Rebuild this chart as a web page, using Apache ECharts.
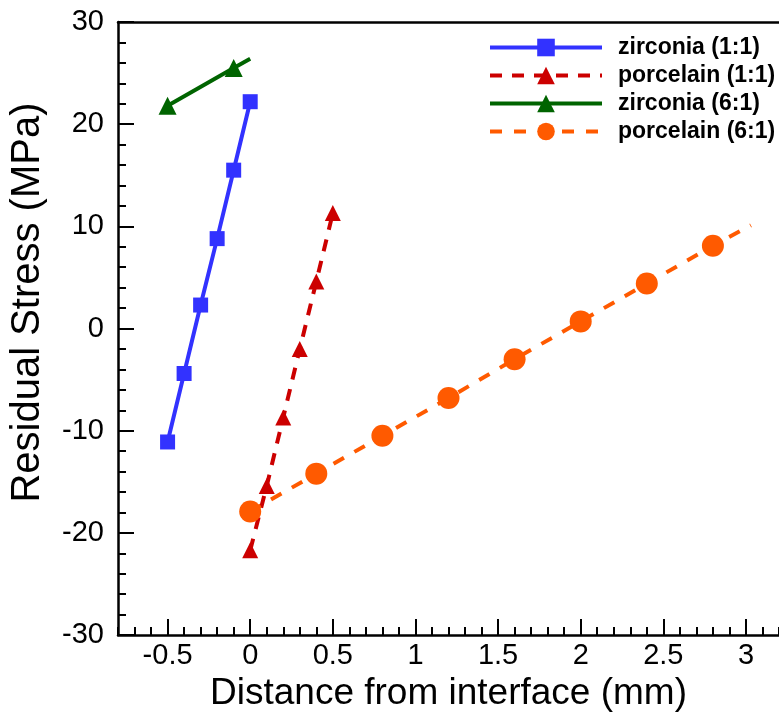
<!DOCTYPE html>
<html>
<head>
<meta charset="utf-8">
<script src="https://cdn.jsdelivr.net/npm/echarts@6/dist/echarts.min.js"></script>
<style>
html,body{margin:0;padding:0;background:#fff;}
#chart{width:779px;height:717px;}
</style>
</head>
<body>
<div id="chart"></div>
<script>
// ---- data ----
const seriesNames = ['zirconia (1:1)', 'porcelain (1:1)', 'zirconia (6:1)', 'porcelain (6:1)'];

const zirconia11X = [-0.5, -0.4, -0.3, -0.2, -0.1, 0];
const zirconia11Y = [-11.1, -4.4, 2.3, 8.8, 15.5, 22.2];

const porcelain11X = [0, 0.1, 0.2, 0.3, 0.4, 0.5];
const porcelain11Y = [-21.7, -15.4, -8.7, -2.0, 4.6, 11.3];

const zirconia61X = [-0.5, -0.1, 0];
const zirconia61Y = [21.8, 25.5, 26.4];
const zirconia61Marker = [true, true, false];

const porcelain61X = [0, 0.4, 0.8, 1.2, 1.6, 2.0, 2.4, 2.8, 3.03];
const porcelain61Y = [-17.9, -14.2, -10.5, -6.8, -3.0, 0.7, 4.4, 8.1, 10.1];
const porcelain61Marker = [true, true, true, true, true, true, true, true, false];

const xTitle = 'Distance from interface (mm)';
const yTitle = 'Residual Stress (MPa)';

function pts(xs, ys, marks) {
  return xs.map((x, i) => {
    if (marks && !marks[i]) return { value: [x, ys[i]], symbol: 'none' };
    return [x, ys[i]];
  });
}

const FONT = 'Liberation Sans, Arial, Helvetica, sans-serif';
const axisLineStyle = { color: '#000', width: 2.5 };
const tickLineStyle = { color: '#000', width: 2 };

const chart = echarts.init(document.getElementById('chart'), null, { renderer: 'canvas' });
chart.setOption({
  animation: false,
  backgroundColor: '#fff',
  textStyle: { fontFamily: FONT },
  grid: { left: 115, right: -3, top: 22, bottom: 80, containLabel: false },
  legend: {
    orient: 'vertical',
    left: 483,
    top: 31,
    itemWidth: 112,
    itemHeight: 22,
    itemGap: 5,
    data: seriesNames,
    lineStyle: { width: 4 },
    textStyle: { fontSize: 23, fontWeight: 'bold', color: '#000', fontFamily: FONT, padding: [0, 0, 0, 11] }
  },
  xAxis: [
    {
      type: 'value', min: -0.8, max: 3.2, splitNumber: 8, position: 'bottom',
      axisLine: { show: true, onZero: false, lineStyle: axisLineStyle },
      axisTick: { show: true, inside: true, length: 16, lineStyle: tickLineStyle },
      splitLine: { show: false },
      axisLabel: { showMinLabel: false, showMaxLabel: false, fontSize: 29, color: '#000', margin: 6, fontFamily: FONT },
      name: xTitle, nameLocation: 'middle', nameGap: 38,
      nameTextStyle: { fontSize: 37, color: '#000', fontFamily: FONT }
    },
    {
      type: 'value', min: -0.8, max: 3.2, interval: 0.1, position: 'bottom',
      axisLine: { show: false, onZero: false },
      axisTick: { show: true, inside: true, length: 8, lineStyle: tickLineStyle },
      splitLine: { show: false },
      axisLabel: { show: false }
    },
    {
      type: 'value', min: -0.8, max: 3.2, position: 'top',
      axisLine: { show: true, onZero: false, lineStyle: axisLineStyle },
      axisTick: { show: false },
      splitLine: { show: false },
      axisLabel: { show: false }
    }
  ],
  yAxis: {
    type: 'value', min: -30, max: 30, interval: 10, position: 'left',
    axisLine: { show: true, onZero: false, lineStyle: axisLineStyle },
    axisTick: { show: true, inside: true, length: 16, lineStyle: tickLineStyle },
    minorTick: { show: true, splitNumber: 5, length: 8, lineStyle: tickLineStyle },
    splitLine: { show: false },
    minorSplitLine: { show: false },
    axisLabel: { fontSize: 29, color: '#000', margin: 14, fontFamily: FONT },
    name: yTitle, nameLocation: 'middle', nameGap: 70,
    nameTextStyle: { fontSize: 40, color: '#000', fontFamily: FONT, padding: [0, 0, 0, 52] }
  },
  series: [
    {
      name: seriesNames[0], type: 'line', xAxisIndex: 0,
      data: pts(zirconia11X, zirconia11Y),
      symbol: 'rect', symbolSize: 15,
      lineStyle: { color: '#3232FF', width: 4 },
      itemStyle: { color: '#3232FF' }
    },
    {
      name: seriesNames[1], type: 'line', xAxisIndex: 0,
      data: pts(porcelain11X, porcelain11Y),
      symbol: 'triangle', symbolSize: 16,
      lineStyle: { color: '#CC0000', width: 4, type: [12, 10] },
      itemStyle: { color: '#CC0000' }
    },
    {
      name: seriesNames[2], type: 'line', xAxisIndex: 0,
      data: pts(zirconia61X, zirconia61Y, zirconia61Marker),
      symbol: 'triangle', symbolSize: 18,
      lineStyle: { color: '#006400', width: 4 },
      itemStyle: { color: '#006400' }
    },
    {
      name: seriesNames[3], type: 'line', xAxisIndex: 0,
      data: pts(porcelain61X, porcelain61Y, porcelain61Marker),
      symbol: 'circle', symbolSize: 22,
      lineStyle: { color: '#FF5A00', width: 4, type: [12, 12] },
      itemStyle: { color: '#FF5A00' }
    }
  ]
});
</script>
</body>
</html>
